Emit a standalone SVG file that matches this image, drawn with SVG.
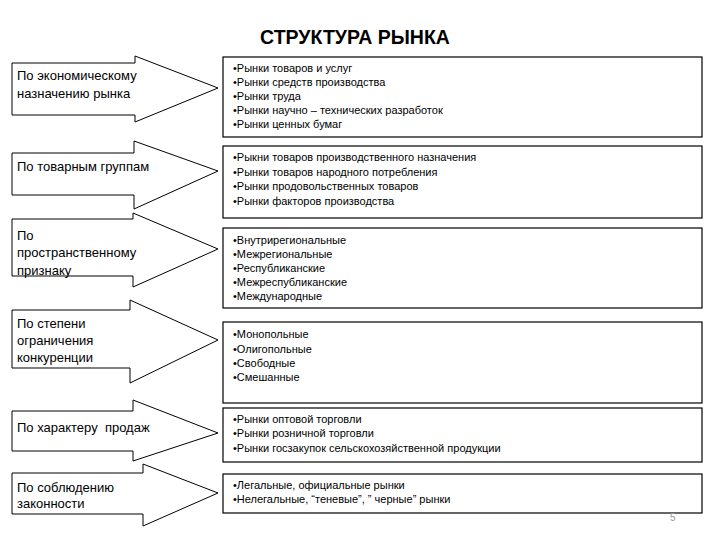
<svg xmlns="http://www.w3.org/2000/svg" width="720" height="540" viewBox="0 0 720 540">
<style>
.bg{fill:#ffffff}
.arrow{fill:#ffffff;stroke:#000000;stroke-width:1}
.box{fill:#ffffff;stroke:#000000;stroke-width:1.2}
.lbl{font-family:"Liberation Sans",Arial,sans-serif;font-size:13px;fill:#000000}
.itm{font-family:"Liberation Sans",Arial,sans-serif;font-size:11px;fill:#000000}
.title{font-family:"Liberation Sans",Arial,sans-serif;font-size:19.5px;font-weight:bold;fill:#000000}
.pg{font-family:"Liberation Sans",Arial,sans-serif;font-size:10px;fill:#9a9a9a}
</style>
<rect class="bg" x="0" y="0" width="720" height="540"/>
<text class="title" x="355" y="44" text-anchor="middle">СТРУКТУРА РЫНКА</text>

<g id="connectors">
<polygon id="arrow1" class="arrow" points="12,63 135,63 135,56 218,88 135,122 135,115 12,115"/>
<polygon id="arrow2" class="arrow" points="12,153 134,153 134,141 218,171 134,209 134,195 12,195"/>
<polygon id="arrow3" class="arrow" points="12,219 133,219 133,213 218,249 133,287 133,276 12,276"/>
<polygon id="arrow4" class="arrow" points="12,310 130,310 130,300 218,340 130,383 130,368 12,368"/>
<polygon id="arrow5" class="arrow" points="12,411 133,411 133,400 218,433 133,461 133,451 12,451"/>
<polygon id="arrow6" class="arrow" points="12,473 143,473 143,464 218,493 143,526 143,514 12,514"/>
</g>

<g id="label1">
<text class="lbl" x="17" y="80">По экономическому</text>
<text class="lbl" x="17" y="98">назначению рынка</text>
</g>
<g id="label2">
<text class="lbl" x="17" y="171">По товарным группам</text>
</g>
<g id="label3">
<text class="lbl" x="17" y="240">По</text>
<text class="lbl" x="17" y="257">пространственному</text>
<text class="lbl" x="17" y="275">признаку</text>
</g>
<g id="label4">
<text class="lbl" x="17" y="328">По степени</text>
<text class="lbl" x="17" y="345">ограничения</text>
<text class="lbl" x="17" y="362">конкуренции</text>
</g>
<g id="label5">
<text class="lbl" x="17" y="432" xml:space="preserve">По характеру  продаж</text>
</g>
<g id="label6">
<text class="lbl" x="17" y="492">По соблюдению</text>
<text class="lbl" x="17" y="508">законности</text>
</g>

<g id="box1">
<rect class="box" x="223" y="57" width="479" height="80"/>
<text class="itm" x="233" y="72">•Рынки товаров и услуг</text>
<text class="itm" x="233" y="86">•Рынки средств производства</text>
<text class="itm" x="233" y="100">•Рынки труда</text>
<text class="itm" x="233" y="114">•Рынки научно – технических разработок</text>
<text class="itm" x="233" y="128">•Рынки ценных бумаг</text>
</g>
<g id="box2">
<rect class="box" x="223" y="146" width="479" height="72"/>
<text class="itm" x="233" y="161">•Рыкни товаров производственного назначения</text>
<text class="itm" x="233" y="175.5">•Рынки товаров народного потребления</text>
<text class="itm" x="233" y="190">•Рынки продовольственных товаров</text>
<text class="itm" x="233" y="204.5">•Рынки факторов производства</text>
</g>
<g id="box3">
<rect class="box" x="223" y="228" width="479" height="80"/>
<text class="itm" x="233" y="244">•Внутрирегиональные</text>
<text class="itm" x="233" y="258">•Межрегиональные</text>
<text class="itm" x="233" y="272">•Республиканские</text>
<text class="itm" x="233" y="286">•Межреспубликанские</text>
<text class="itm" x="233" y="300">•Международные</text>
</g>
<g id="box4">
<rect class="box" x="223" y="322" width="479" height="81"/>
<text class="itm" x="233" y="338">•Монопольные</text>
<text class="itm" x="233" y="352.5">•Олигопольные</text>
<text class="itm" x="233" y="366.5">•Свободные</text>
<text class="itm" x="233" y="381">•Смешанные</text>
</g>
<g id="box5">
<rect class="box" x="223" y="408" width="479" height="54"/>
<text class="itm" x="233" y="423">•Рынки оптовой торговли</text>
<text class="itm" x="233" y="437">•Рынки розничной торговли</text>
<text class="itm" x="233" y="452">•Рынки госзакупок сельскохозяйственной продукции</text>
</g>
<g id="box6">
<rect class="box" x="223" y="474" width="479" height="39"/>
<text class="itm" x="233" y="489">•Легальные, официальные рынки</text>
<text class="itm" x="233" y="503" xml:space="preserve">•Нелегальные, “теневые”, ” черные” рынки</text>
</g>
<text class="pg" x="670" y="521">5</text>
</svg>
